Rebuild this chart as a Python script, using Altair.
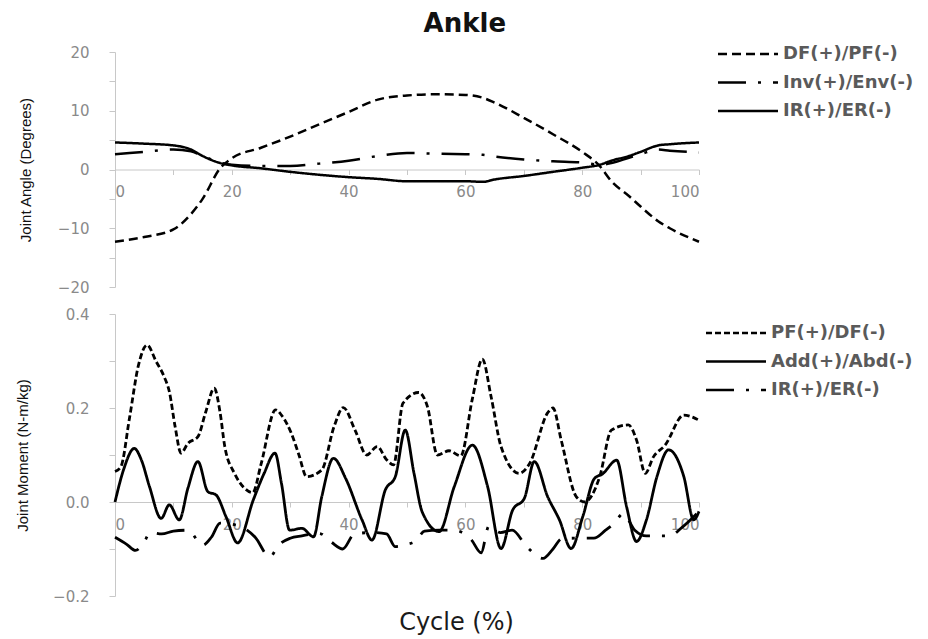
import altair as alt
import pandas as pd

# ---------------- Top panel: joint angles ----------------
top_names = ["DF(+)/PF(-)", "Inv(+)/Env(-)", "IR(+)/ER(-)"]
top_x = [0, 5, 10, 13, 15, 18, 20, 25, 30, 35, 40, 45, 50, 55, 60, 63, 65, 70, 75, 80, 83, 85, 88, 90, 93, 95, 100]
angle_dfpf = [-12.3, -11.5, -10.2, -7.6, -5.0, 0.2, 1.9, 3.7, 5.6, 7.7, 9.8, 11.9, 12.6, 12.8, 12.7, 12.2, 11.4, 8.8, 6.0, 3.0, 0.6, -2.0, -4.5, -6.3, -8.8, -10.0, -12.3]
angle_inv = [2.6, 3.0, 3.4, 3.1, 2.3, 1.2, 0.8, 0.6, 0.6, 1.0, 1.5, 2.3, 2.8, 2.7, 2.6, 2.5, 2.2, 1.7, 1.4, 1.2, 0.8, 1.1, 2.0, 2.6, 3.4, 3.2, 2.9]
angle_ir = [4.6, 4.4, 4.1, 3.4, 2.3, 1.1, 0.7, 0.2, -0.4, -0.9, -1.3, -1.6, -2.0, -2.0, -2.0, -2.1, -1.7, -1.1, -0.4, 0.3, 0.8, 1.5, 2.3, 3.0, 4.1, 4.3, 4.6]

# ---------------- Bottom panel: joint moments ----------------
bot_names = ["PF(+)/DF(-)", "Add(+)/Abd(-)", "IR(+)/ER(-)"]
mom_pf_x = [0, 1, 2.5, 4, 5.5, 7, 8.4, 9.3, 10.3, 11.3, 12.5, 14.2, 15.5, 17.0, 18.0, 18.8, 20.5, 21.9, 23.6, 25.0, 27.5, 28.5, 30.2, 31.5, 32.8, 35.4, 37.5, 39.1, 41.1, 43.1, 44.9, 46.5, 47.7, 49.3, 52.0, 53.5, 55.2, 57.2, 59.2, 61.2, 62.9, 64.4, 66.1, 69.2, 71.0, 74.1, 75.0, 76.4, 79.0, 80.4, 83.0, 85.0, 87.9, 89.3, 90.8, 92.2, 94.2, 97.4, 99, 100]
mom_pf_y = [0.065, 0.075, 0.18, 0.29, 0.334, 0.30, 0.267, 0.235, 0.16, 0.104, 0.125, 0.139, 0.19, 0.242, 0.19, 0.118, 0.06, 0.033, 0.02, 0.08, 0.196, 0.185, 0.146, 0.10, 0.054, 0.068, 0.16, 0.201, 0.153, 0.10, 0.118, 0.09, 0.079, 0.21, 0.233, 0.203, 0.10, 0.109, 0.098, 0.22, 0.304, 0.224, 0.118, 0.061, 0.082, 0.19, 0.20, 0.132, 0.011, 0.0, 0.054, 0.153, 0.164, 0.132, 0.061, 0.096, 0.121, 0.185, 0.18, 0.174]

mom_add_x = [0, 1.5, 3.3, 4.5, 5.9, 7.9, 9.3, 11.0, 12.5, 14.2, 15.9, 17.3, 19.0, 21.0, 23.7, 25.5, 27.4, 28.5, 29.9, 32.0, 34.0, 35.4, 37.4, 39.5, 42.3, 44.0, 46.3, 48.0, 49.7, 51.2, 52.6, 55.5, 58.1, 61.2, 63.8, 66.1, 68.1, 70.1, 71.8, 74.1, 76.1, 78.1, 80.1, 82.1, 83.5, 85.9, 87.6, 89.3, 91.0, 92.8, 94.8, 97.4, 99.1, 100]
mom_add_y = [0.0, 0.07, 0.114, 0.09, 0.033, -0.035, -0.006, -0.038, 0.03, 0.086, 0.022, 0.015, -0.031, -0.087, 0.005, 0.06, 0.104, 0.04, -0.06, -0.056, -0.074, 0.011, 0.093, 0.05, -0.038, -0.081, 0.026, 0.054, 0.153, 0.061, -0.021, -0.063, 0.033, 0.121, 0.033, -0.099, -0.017, 0.008, 0.086, 0.011, -0.038, -0.099, -0.031, 0.05, 0.06, 0.089, -0.010, -0.084, -0.038, 0.054, 0.111, 0.054, -0.038, -0.02]

mom_ir_x = [0, 2, 3.5, 5, 6, 8, 10, 12.5, 15, 16.5, 18, 21, 24, 26.5, 28, 30, 32, 35, 37, 39, 41, 44, 46.5, 48, 50, 51.5, 53, 55.5, 58, 61, 62.7, 64, 66, 68, 70.5, 73.3, 75, 76.5, 79, 82, 84, 85.5, 87, 89, 91, 95, 97, 100]
mom_ir_y = [-0.075, -0.09, -0.103, -0.085, -0.065, -0.068, -0.062, -0.06, -0.092, -0.075, -0.045, -0.05, -0.075, -0.117, -0.092, -0.077, -0.072, -0.067, -0.085, -0.1, -0.068, -0.065, -0.068, -0.095, -0.09, -0.083, -0.062, -0.06, -0.06, -0.08, -0.108, -0.052, -0.065, -0.06, -0.095, -0.12, -0.1, -0.078, -0.077, -0.077, -0.06, -0.045, -0.025, -0.06, -0.072, -0.072, -0.055, -0.02]

# ---------------- Tables ----------------
top_rows = []
for name, ys in zip(top_names, [angle_dfpf, angle_inv, angle_ir]):
    for xv, yv in zip(top_x, ys):
        top_rows.append({"x": xv, "y": yv, "series": name})
top_df = pd.DataFrame(top_rows)

bot_rows = []
for name, xs, ys in zip(bot_names, [mom_pf_x, mom_add_x, mom_ir_x], [mom_pf_y, mom_add_y, mom_ir_y]):
    for xv, yv in zip(xs, ys):
        bot_rows.append({"x": xv, "y": yv, "series": name})
bot_df = pd.DataFrame(bot_rows)

PW = 584
TOP_H = 235
BOT_H = 282

legend_common = dict(
    title=None,
    orient="none",
    symbolType="M-6,0L6,0",
    symbolSize=100,
    symbolStrokeWidth=2.5,
    symbolStrokeColor="black",
    labelFont="DejaVu Sans",
    labelFontSize=18,
    labelFontWeight="bold",
    labelColor="#5a5a5a",
    labelOffset=26,
    rowPadding=10.5,
    padding=0,
    labelLimit=400,
)

x_axis_common = dict(
    title=None,
    values=list(range(0, 101, 10)),
    labelExpr="datum.value % 20 == 0 ? datum.label : ''",
    tickSize=5,
    labelPadding=10,
)

top = alt.Chart(top_df).mark_line(color="black", strokeWidth=2.5, interpolate="monotone").encode(
    x=alt.X("x:Q", scale=alt.Scale(domain=[0, 100], nice=False),
            axis=alt.Axis(offset=-TOP_H / 2, **x_axis_common)),
    y=alt.Y("y:Q", scale=alt.Scale(domain=[-20, 20], nice=False),
            axis=alt.Axis(title="Joint Angle (Degrees)", values=list(range(-20, 21, 5)),
                          labelExpr="datum.value % 10 == 0 ? datum.label : ''",
                          tickSize=6, labelPadding=20, titlePadding=24)),
    strokeDash=alt.StrokeDash("series:N",
                              scale=alt.Scale(domain=top_names, range=[[9, 5], [28, 12, 3, 12], [1, 0]]),
                              legend=alt.Legend(legendX=624, legendY=-7, **legend_common)),
).properties(width=PW, height=TOP_H)

bottom = alt.Chart(bot_df).mark_line(color="black", strokeWidth=2.8, interpolate="monotone").encode(
    x=alt.X("x:Q", scale=alt.Scale(domain=[0, 100], nice=False),
            axis=alt.Axis(offset=-BOT_H / 3, **{**x_axis_common, "title": "Cycle (%)"},
                          titlePadding=78, titleX=341, titleFont="DejaVu Sans", titleFontSize=24,
                          titleFontWeight="normal", titleColor="#1a1a1a")),
    y=alt.Y("y:Q", scale=alt.Scale(domain=[-0.2, 0.4], nice=False),
            axis=alt.Axis(title="Joint Moment (N-m/kg)",
                          values=[-0.2, -0.1, 0.0, 0.1, 0.2, 0.3, 0.4],
                          labelExpr="abs(round(datum.value * 10)) % 2 == 0 ? format(datum.value, '.1f') : ''",
                          tickSize=6, labelPadding=20, titlePadding=22)),
    strokeDash=alt.StrokeDash("series:N",
                              scale=alt.Scale(domain=bot_names, range=[[6, 3], [1, 0], [28, 12, 3, 12]]),
                              legend=alt.Legend(legendX=612, legendY=10, **legend_common)),
).properties(width=PW, height=BOT_H)

chart = alt.vconcat(top, bottom, spacing=12).resolve_scale(
    strokeDash="independent"
).resolve_legend(
    strokeDash="independent"
).properties(
    title=alt.TitleParams(text="Ankle", font="DejaVu Sans", fontSize=26, fontWeight="bold",
                          color="#111111", anchor="middle", offset=8),
    padding={"left": 15, "top": 11, "right": 5, "bottom": 5},
    background="white",
).configure_view(
    stroke=None
).configure_axis(
    grid=False,
    domainColor="#c8c8c8",
    tickColor="#c8c8c8",
    labelColor="#8a8a8a",
    labelFont="DejaVu Sans",
    labelFontSize=15,
    titleFont="Liberation Sans",
    titleFontSize=15,
    titleFontWeight="normal",
    titleColor="#111111",
)

chart.save("out.html", embed_options={"renderer": "svg", "actions": False})
